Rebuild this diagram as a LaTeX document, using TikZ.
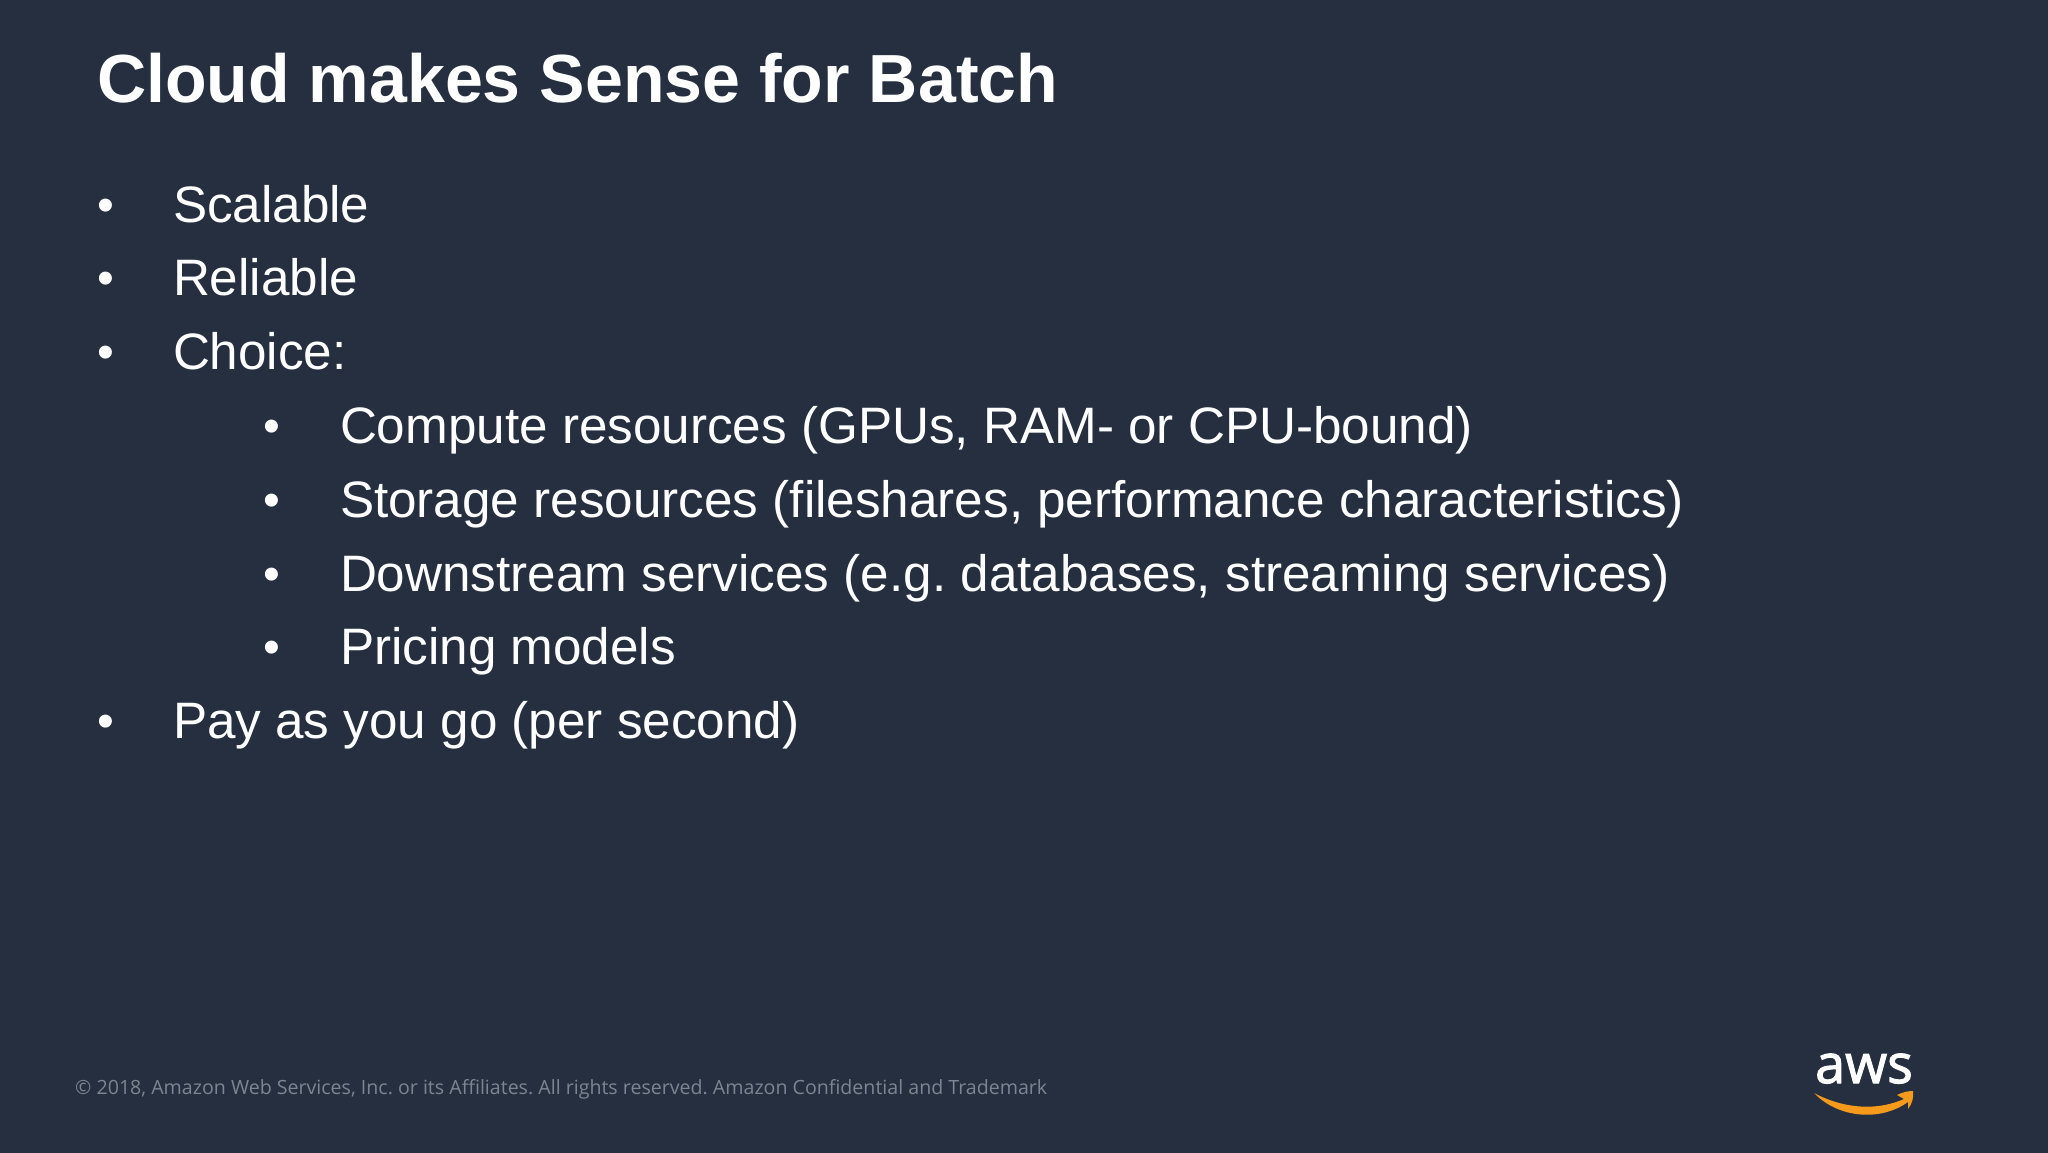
\documentclass[tikz,border=0pt]{standalone}
\usepackage{fontspec}
\setmainfont{Liberation Sans}
\newfontfamily\footfont{Open Sans}
\newfontfamily\logofont[RawFeature={embolden=2}]{Open Sans}
\definecolor{bgc}{HTML}{252F40}
\definecolor{footc}{HTML}{7C8591}
\definecolor{smile}{HTML}{F59A1B}
\tikzset{
  txt/.style={anchor=base west,inner sep=0pt,outer sep=0pt,text=white},
  titletxt/.style={txt,font=\fontsize{68.1}{72}\selectfont\bfseries},
  bodytxt/.style={txt,font=\frenchspacing\fontsize{51.23}{60}\selectfont},
  bullettxt/.style={txt,font=\fontsize{48}{60}\selectfont},
  foottxt/.style={anchor=base west,inner sep=0pt,text=footc,font=\frenchspacing\footfont\fontsize{19.6}{24}\selectfont},
  logotxt/.style={anchor=base,inner sep=0pt,text=white,font=\logofont\fontsize{54}{60}\selectfont}
}
\begin{document}
\begin{tikzpicture}[x=1pt,y=-1pt]
\useasboundingbox (0,0) rectangle (2048,1152);
\fill[bgc] (-3,-3) rectangle (2051,1155);
\node[titletxt] (title) at (97,102) {Cloud makes Sense for Batch};
\foreach \n/\y/\t in {a/222/Scalable,b/295.8/Reliable,c/369.6/Choice:,h/738.6/Pay as you go (per second)}{
  \node[bullettxt] (bul\n) at (97,\y-1) {•};
  \node[bodytxt] (l\n) at (173,\y) {\t};
}
\foreach \n/\y/\t in {d/443.4/{Compute resources (GPUs, RAM- or CPU-bound)},e/517.2/{Storage resources (fileshares, performance characteristics)},f/591/{Downstream services (e.g. databases, streaming services)},g/664.8/Pricing models}{
  \node[bullettxt] (bul\n) at (263,\y-1) {•};
  \node[bodytxt] (l\n) at (340,\y) {\t};
}
\node[foottxt] (foot) at (75,1094) {© 2018, Amazon Web Services, Inc. or its Affiliates. All rights reserved. Amazon Confidential and Trademark};
\node[logotxt] (logo) at (1864,1083) {aws};
\fill[smile] (1814,1093) .. controls (1838,1106) and (1872,1113) .. (1904,1099)
  -- (1897,1095) .. controls (1903,1092) and (1908,1091) .. (1913,1091)
  .. controls (1914,1097) and (1912,1104) .. (1908,1109) -- (1908,1102)
  .. controls (1880,1122) and (1838,1118) .. (1814,1093) -- cycle;
\end{tikzpicture}
\end{document}
